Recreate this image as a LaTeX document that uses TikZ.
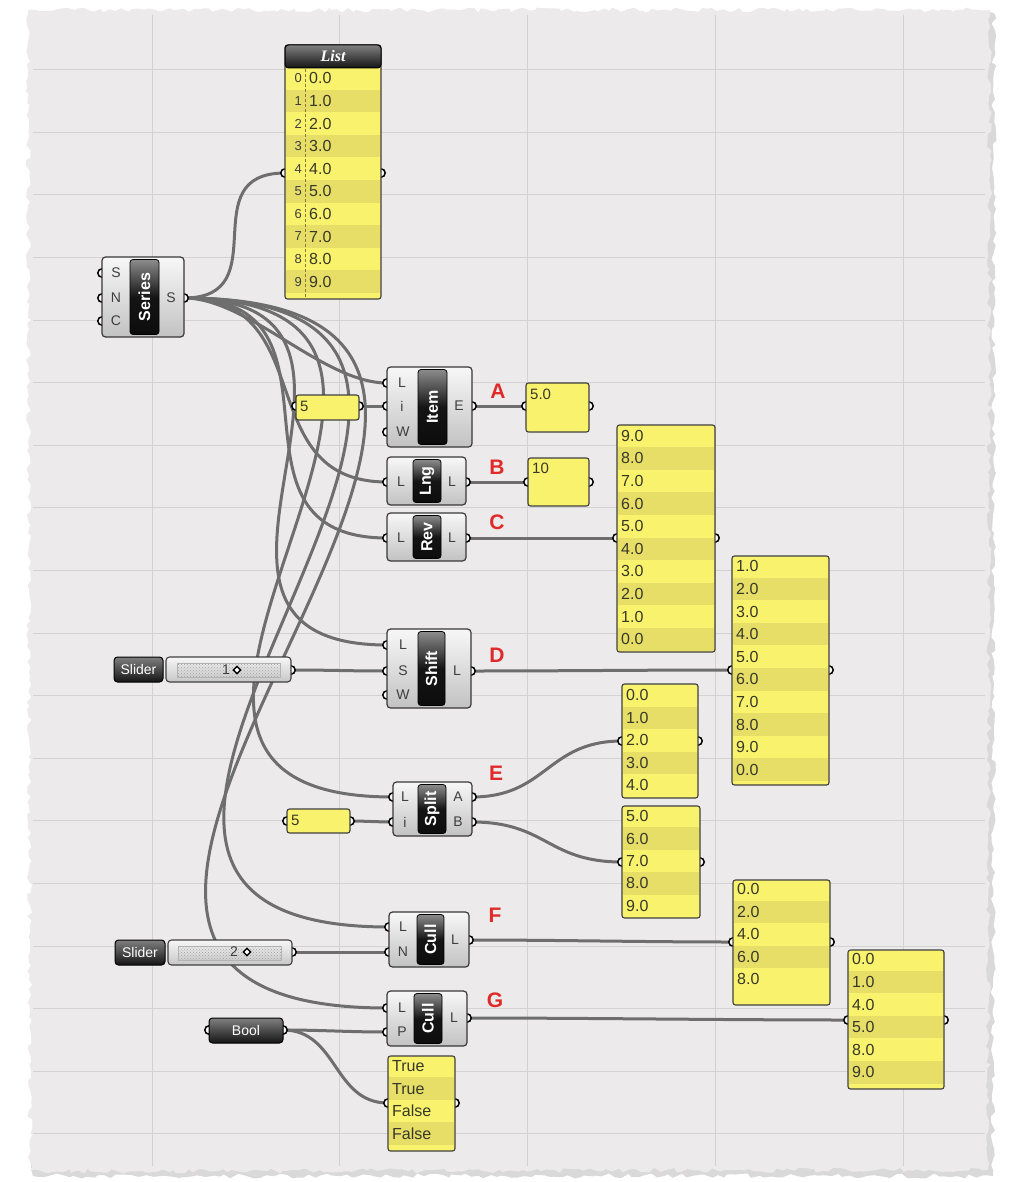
\documentclass[tikz,border=0pt]{standalone}
\usepackage{fontspec}
\setmainfont{Liberation Sans}
\newfontfamily\tnrfont{Liberation Serif}
\usetikzlibrary{calc,patterns,decorations.pathmorphing}
\definecolor{paper}{HTML}{ECEAEA}
\definecolor{gridc}{HTML}{D3D1D1}
\definecolor{wirec}{HTML}{6E6E6E}
\definecolor{pyel}{HTML}{F9F26C}
\definecolor{pdark}{HTML}{E6DE66}
\definecolor{ptxt}{HTML}{38382A}
\definecolor{lblred}{HTML}{E02A2A}
\definecolor{iogray}{HTML}{3E3E3E}
\definecolor{dashc}{HTML}{8A7A30}
\newcommand{\rnode}[6]{\node[#1, minimum width={(#5-#3)*1pt}, minimum height={(#6-#4)*1pt}] (#2) at ({(#3+#5)/2},{(#4+#6)/2}) {};}
\newcommand{\gwire}[3]{\draw[wire] (#1) .. controls ($(#1)+(#3,0)$) and ($(#2)-(#3,0)$) .. (#2);}
\newcommand{\glist}[9]{%
  \rnode{panel}{#1}{#2}{#3}{#4}{#5}
  \begin{scope}
    \clip (#2+1.2,#3+1.2) rectangle (#4-1.2,#5-1.2);
    \foreach \ptx [count=\k from 0] in {#9} {%
      \pgfmathtruncatemacro\kodd{mod(\k,2)}%
      \ifnum\kodd=1 \fill[pdark] (#2,{#6+\k*#7}) rectangle (#4,{#6+(\k+1)*#7});\fi
    }
  \end{scope}
  \foreach \ptx [count=\k from 0] in {#9} {\node[ptext] (#1-\k) at (#8,{#6+(\k+0.5)*#7}) {\ptx};}
}
\begin{document}
\begin{tikzpicture}[x=1pt,y=-1pt,
  wire/.style={draw=wirec,line width=3pt},
  port/.style={fill=white,draw=black,line width=1.5pt},
  comp/.style={draw=black!78,line width=1.2pt,rounded corners=3.5pt,top color=gray!6,bottom color=gray!48,inner sep=0pt},
  caps/.style={draw=black,line width=0.8pt,rounded corners=3pt,top color=black!45,bottom color=black!95,middle color=black!92,inner sep=0pt},
  captxt/.style={text=white,font=\bfseries\fontsize{16}{16}\selectfont,rotate=90,inner sep=0pt},
  io/.style={text=iogray,font=\fontsize{14}{14}\selectfont,inner sep=0pt},
  panel/.style={fill=pyel,draw=black!75,line width=1.1pt,rounded corners=2.5pt,inner sep=0pt},
  ptext/.style={text=ptxt,font=\fontsize{16}{16}\selectfont,inner sep=0pt,anchor=west},
  ptextb/.style={text=ptxt,font=\fontsize{15}{15}\selectfont,inner sep=0pt,anchor=west},
  idx/.style={text=iogray,font=\fontsize{13}{13}\selectfont,inner sep=0pt,anchor=east},
  redlbl/.style={text=lblred,font=\bfseries\fontsize{21}{21}\selectfont,inner sep=0pt},
  darkbtn/.style={draw=black,line width=1pt,rounded corners=3.5pt,top color=black!50,bottom color=black!92,inner sep=0pt},
  btntxt/.style={text=white,font=\fontsize{14}{14}\selectfont,inner sep=0pt},
  sbody/.style={draw=black!75,line width=1.1pt,rounded corners=3.5pt,top color=gray!6,bottom color=gray!45,inner sep=0pt},
  strack/.style={fill=gray!28,pattern=crosshatch dots,pattern color=gray!75,draw=gray!60,line width=0.5pt,inner sep=0pt},
  diam/.style={draw=black,fill=white,line width=1.4pt,rotate=45,minimum size=5pt,inner sep=0pt},
]
\useasboundingbox (0,0) rectangle (1009,1182);
\fill[white] (0,0) rectangle (1009,1182);
% paper
\pgfmathsetseed{7}
\fill[gray!30,decorate,decoration={random steps,segment length=6pt,amplitude=2.5pt}] (32,14) -- (994,13) -- (993,1176) -- (33,1176) -- cycle;
\pgfmathsetseed{11}
\fill[paper,decorate,decoration={random steps,segment length=5pt,amplitude=2.5pt}] (28,10) -- (990,10) -- (988,1170) -- (30,1171) -- cycle;
% grid
\foreach \gx in {152,339.5,527,715,903} \draw[gridc,line width=1pt] (\gx,15) -- (\gx,1166);
\foreach \gk in {1,...,18} \draw[gridc,line width=1pt] (33,{7+62.6*\gk}) -- (985,{7+62.6*\gk});
% port coordinates
\foreach \pn/\px/\py in {ser-S/102/273, ser-N/102/298, ser-C/102/321, ser-o/184/298,
  list-i/285/173, list-o/381/173,
  item-L/387/383, item-i/387/406, item-W/387/432, item-o/472/406,
  pa-i/296/406, pa-o/359/406, ia-i/526/406, ia-o/589/406,
  lng-i/387/482, lng-o/466/482, lb-i/528/482, lb-o/589/482,
  rev-i/387/538, rev-o/466/538, rc-i/617/538, rc-o/715/538,
  sl1-o/291/670, sh-L/387/645, sh-S/387/671, sh-W/387/695, sh-o/471/671,
  sd-i/732/670, sd-o/829/670,
  sp-L/393/797, sp-i/393/822, sp-A/472/797, sp-B/472/822,
  pe-i/287/821, pe-o/350/821, sa-i/622/741, sa-o/698/741, sb-i/622/862, sb-o/700/862,
  sl2-o/292/952, cf-L/389/927, cf-N/389/952, cf-o/469/940, cfp-i/733/942, cfp-o/830/942,
  cg-L/387/1008, cg-P/387/1032, cg-o/467/1018, cgp-i/848/1020, cgp-o/944/1020,
  bool-i/209/1030, bool-o/283/1030, tf-i/388/1103, tf-o/455/1103}
  \coordinate (\pn) at (\px,\py);
% wires
\gwire{ser-o}{list-i}{94}
\gwire{ser-o}{item-L}{64}
\gwire{ser-o}{lng-i}{138}
\gwire{ser-o}{rev-i}{180}
\gwire{ser-o}{sh-L}{260}
\gwire{ser-o}{sp-L}{374}
\gwire{ser-o}{cf-L}{472}
\gwire{ser-o}{cg-L}{532}
\gwire{pa-o}{item-i}{12}
\gwire{item-o}{ia-i}{20}
\gwire{lng-o}{lb-i}{25}
\gwire{rev-o}{rc-i}{60}
\gwire{sl1-o}{sh-S}{40}
\gwire{sh-o}{sd-i}{90}
\gwire{pe-o}{sp-i}{15}
\gwire{sp-A}{sa-i}{75}
\gwire{sp-B}{sb-i}{75}
\gwire{sl2-o}{cf-N}{40}
\gwire{cf-o}{cfp-i}{90}
\gwire{cg-o}{cgp-i}{120}
\gwire{bool-o}{cg-P}{40}
\gwire{bool-o}{tf-i}{55}
% port circles
\foreach \pn in {ser-S,ser-N,ser-C,ser-o,list-i,list-o,item-L,item-i,item-W,item-o,pa-i,pa-o,ia-i,ia-o,
  lng-i,lng-o,lb-i,lb-o,rev-i,rev-o,rc-i,rc-o,sl1-o,sh-L,sh-S,sh-W,sh-o,sd-i,sd-o,
  sp-L,sp-i,sp-A,sp-B,pe-i,pe-o,sa-i,sa-o,sb-i,sb-o,sl2-o,cf-L,cf-N,cf-o,cfp-i,cfp-o,
  cg-L,cg-P,cg-o,cgp-i,cgp-o,bool-i,bool-o,tf-i,tf-o}
  \draw[port] (\pn) circle (4.2pt);
% ---- Series
\rnode{comp}{ser}{102}{257}{184}{337}
\rnode{caps}{sercap}{130}{259.5}{159}{334.5}
\node[captxt] (sert) at (sercap) {Series};
\node[io] (serSl) at (116,273) {S};
\node[io] (serNl) at (116,298) {N};
\node[io] (serCl) at (116,321) {C};
\node[io] (serol) at (171,298) {S};
% ---- List panel
\glist{lst}{285}{45}{381}{299}{67}{22.6}{309}{0.0,1.0,2.0,3.0,4.0,5.0,6.0,7.0,8.0,9.0}
\rnode{darkbtn}{lsth}{285}{45}{381}{68}
\node[text=white,font=\tnrfont\bfseries\itshape\fontsize{16}{16}\selectfont,inner sep=0pt] (lstht) at (333,56) {List};
\foreach \ix in {0,...,9} \node[idx] (lsti-\ix) at (302,{67+(\ix+0.5)*22.6}) {\ix};
\draw[dashc,line width=1pt,dash pattern=on 3pt off 2pt] (305.5,69) -- (305.5,298);
% ---- Item
\rnode{comp}{item}{387}{367}{472}{447}
\rnode{caps}{itemcap}{418}{369.5}{447}{444.5}
\node[captxt] (itemt) at (itemcap) {Item};
\node[io] (itemLl) at (402,383) {L};
\node[io] (itemil) at (402,406) {i};
\node[io] (itemWl) at (403,432) {W};
\node[io] (itemol) at (459,406) {E};
\rnode{panel}{pa}{296}{395}{359}{420}
\node[ptextb] (pat) at (300,406) {5};
\rnode{panel}{ia}{526}{383}{589}{432}
\node[ptextb] (iat) at (530,394) {5.0};
\node[redlbl] (lblA) at (498,391) {A};
% ---- Lng
\rnode{comp}{lng}{387}{457}{466}{505}
\rnode{caps}{lngcap}{413}{459.5}{441}{502.5}
\node[captxt] (lngt) at (lngcap) {Lng};
\node[io] (lngil) at (401,482) {L};
\node[io] (lngol) at (452,482) {L};
\rnode{panel}{lb}{528}{458}{589}{506}
\node[ptextb] (lbt) at (532,468) {10};
\node[redlbl] (lblB) at (497,467) {B};
% ---- Rev
\rnode{comp}{rev}{387}{513}{466}{561}
\rnode{caps}{revcap}{413}{515.5}{441}{558.5}
\node[captxt] (revt) at (revcap) {Rev};
\node[io] (revil) at (401,538) {L};
\node[io] (revol) at (452,538) {L};
\node[redlbl] (lblC) at (497,522) {C};
\glist{rc}{617}{425}{715}{652}{424.5}{22.6}{621}{9.0,8.0,7.0,6.0,5.0,4.0,3.0,2.0,1.0,0.0}
% ---- Shift
\rnode{comp}{sh}{387}{629}{471}{708}
\rnode{caps}{shcap}{418}{631.5}{445}{705.5}
\node[captxt] (sht) at (shcap) {Shift};
\node[io] (shLl) at (403,645) {L};
\node[io] (shSl) at (403,671) {S};
\node[io] (shWl) at (403,695) {W};
\node[io] (shol) at (457,671) {L};
\node[redlbl] (lblD) at (497,655) {D};
\glist{sd}{732}{556}{829}{785}{555}{22.6}{736}{1.0,2.0,3.0,4.0,5.0,6.0,7.0,8.0,9.0,0.0}
% slider 1
\rnode{darkbtn}{sl1l}{114}{657}{163}{682}
\node[btntxt] (sl1lt) at (sl1l) {Slider};
\rnode{sbody}{sl1}{166}{657}{291}{682}
\rnode{strack}{sl1tr}{177}{663}{280}{677}
\node[io] (sl1v) at (226,670) {1};
\node[diam] (sl1d) at (237,670) {};
% ---- Split
\rnode{comp}{sp}{393}{782}{472}{836}
\rnode{caps}{spcap}{418}{784.5}{446}{833.5}
\node[captxt] (spt) at (spcap) {Split};
\node[io] (spLl) at (405,797) {L};
\node[io] (spil) at (405,822) {i};
\node[io] (spAl) at (458,797) {A};
\node[io] (spBl) at (458,822) {B};
\node[redlbl] (lblE) at (496,773) {E};
\rnode{panel}{pe}{287}{809}{350}{833}
\node[ptextb] (pet) at (291,820) {5};
\glist{sa}{622}{684}{698}{798}{684}{22.5}{626}{0.0,1.0,2.0,3.0,4.0}
\glist{sb}{622}{806}{700}{918}{805}{22.4}{626}{5.0,6.0,7.0,8.0,9.0}
% ---- Cull F
\rnode{comp}{cf}{389}{912}{469}{967}
\rnode{caps}{cfcap}{417}{914.5}{444}{964.5}
\node[captxt] (cft) at (cfcap) {Cull};
\node[io] (cfLl) at (403,927) {L};
\node[io] (cfNl) at (403,952) {N};
\node[io] (cfol) at (455,940) {L};
\node[redlbl] (lblF) at (495,915) {F};
\glist{cfp}{733}{880}{830}{1005}{878}{22.5}{737}{0.0,2.0,4.0,6.0,8.0}
% slider 2
\rnode{darkbtn}{sl2l}{115}{940}{165}{965}
\node[btntxt] (sl2lt) at (sl2l) {Slider};
\rnode{sbody}{sl2}{168}{940}{292}{965}
\rnode{strack}{sl2tr}{178}{946}{281}{960}
\node[io] (sl2v) at (234,952) {2};
\node[diam] (sl2d) at (247,952) {};
% ---- Cull G
\rnode{comp}{cg}{387}{991}{467}{1046}
\rnode{caps}{cgcap}{414}{993.5}{442}{1043.5}
\node[captxt] (cgt) at (cgcap) {Cull};
\node[io] (cgLl) at (402,1008) {L};
\node[io] (cgPl) at (402,1032) {P};
\node[io] (cgol) at (454,1018) {L};
\node[redlbl] (lblG) at (495,1000) {G};
\glist{cgp}{848}{950}{944}{1089}{948}{22.6}{852}{0.0,1.0,4.0,5.0,8.0,9.0}
% ---- Bool
\rnode{darkbtn}{bool}{209}{1018}{283}{1043}
\node[btntxt] (boolt) at (bool) {Bool};
\glist{tf}{388}{1056}{455}{1151}{1055}{22.4}{392}{True,True,False,False}
\end{tikzpicture}
\end{document}
